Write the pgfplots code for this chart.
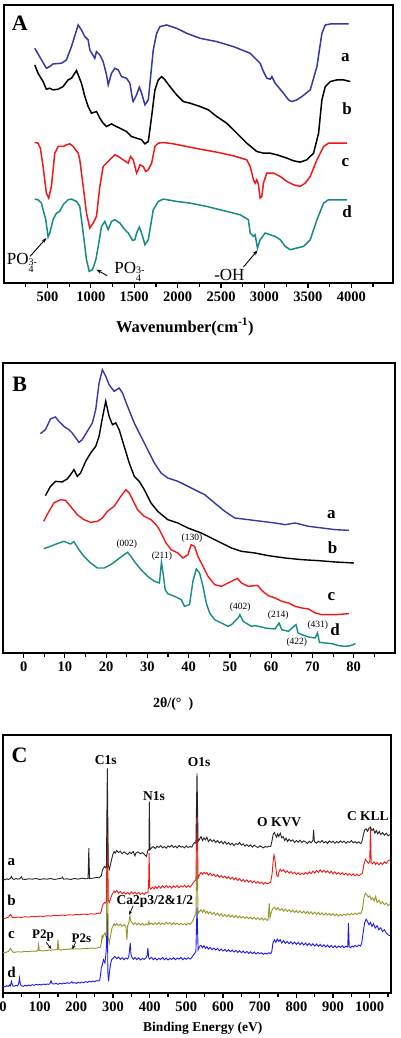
\documentclass[border=0pt]{standalone}
\usepackage{fontspec}
\setmainfont{Liberation Serif}
\usepackage{pgfplots}
\pgfplotsset{compat=1.18}
\usetikzlibrary{arrows.meta}
\definecolor{cA}{RGB}{55,55,165}
\definecolor{cR}{RGB}{240,25,25}
\definecolor{cT}{RGB}{20,140,130}
\definecolor{cO}{RGB}{150,150,40}
\definecolor{cBl}{RGB}{25,25,240}
\pgfplotsset{
  panel/.style={
    scale only axis, clip=false, anchor=south west,
    axis line style={line width=1.5pt},
    ytick=\empty, xtick pos=left, tick align=outside,
    major tick length=5pt, minor tick length=4pt,
    every tick/.style={black, line width=1.2pt},
    scaled x ticks=false,
    /pgf/number format/1000 sep={},
    /pgf/number format/assume math mode=true,
    xticklabel style={font=\fontsize{14.5}{16}\selectfont\bfseries},
  }
}
\newcommand{\po}{PO\raisebox{-4.5pt}{\fontsize{10}{10}\selectfont\begin{tabular}{@{}l@{}}3-\\[-2.5pt]4\end{tabular}}}
\begin{document}
\begin{tikzpicture}
\useasboundingbox (0,0) rectangle (400pt,1038pt);
% ================= Panel A =================
\begin{axis}[panel, at={(4pt,755pt)}, width=389pt, height=278pt,
  xmin=0, xmax=4480, ymin=0, ymax=835,
  xtick={500,1000,...,4000}, minor xtick={250,750,...,4250}]
\addplot[cA, line width=1.5pt] coordinates {
(354,705)(488,645)(527,650)(565,658)(662,660)(719,670)(777,710)(854,775)(892,760)(931,740)(969,730)(988,700)(1046,675)(1065,695)(1104,685)(1142,665)(1181,625)(1200,595)(1238,630)(1277,645)(1315,640)(1354,620)(1411,615)(1450,600)(1481,550)(1488,545)(1527,565)(1558,588)(1585,570)(1623,535)(1662,550)(1719,700)(1758,750)(1796,770)(1873,775)(1988,765)(2104,750)(2258,735)(2450,725)(2642,710)(2835,690)(2950,660)(2988,635)(3027,615)(3065,612)(3085,620)(3123,600)(3161,588)(3219,570)(3277,550)(3315,545)(3373,550)(3431,560)(3527,580)(3604,650)(3661,750)(3700,775)(3758,778)(3969,778)};
\addplot[black, line width=1.5pt] coordinates {
(354,655)(392,630)(450,605)(488,582)(527,585)(565,580)(623,582)(681,590)(738,610)(777,615)(835,638)(892,600)(931,560)(969,530)(1008,510)(1065,515)(1104,495)(1142,480)(1181,470)(1238,478)(1277,472)(1335,465)(1411,455)(1469,440)(1527,435)(1585,430)(1623,418)(1662,425)(1700,500)(1738,580)(1777,610)(1815,620)(1854,610)(1911,590)(1988,565)(2065,545)(2142,540)(2258,530)(2354,520)(2450,500)(2565,480)(2642,460)(2719,440)(2796,420)(2911,395)(2988,390)(3065,390)(3142,385)(3258,375)(3335,367)(3411,363)(3488,370)(3565,390)(3623,450)(3661,550)(3700,590)(3758,605)(3834,610)(3911,610)(3988,605)};
\addplot[cR, line width=1.5pt] coordinates {
(354,422)(392,420)(419,405)(450,350)(488,270)(515,255)(546,290)(585,390)(623,410)(681,410)(719,415)(758,418)(796,410)(854,390)(873,370)(912,290)(950,210)(988,165)(1027,180)(1065,200)(1104,290)(1142,350)(1181,360)(1238,375)(1277,385)(1315,380)(1373,370)(1431,360)(1458,380)(1488,370)(1508,350)(1527,330)(1546,340)(1565,355)(1604,350)(1631,335)(1662,340)(1700,360)(1738,410)(1777,420)(1835,422)(1950,418)(2104,410)(2258,402)(2450,393)(2642,382)(2796,370)(2835,350)(2873,310)(2892,300)(2911,310)(2931,295)(2950,255)(2969,260)(2988,300)(3027,330)(3104,330)(3181,320)(3258,305)(3335,295)(3411,290)(3469,300)(3527,320)(3604,370)(3681,410)(3738,420)(3950,420)};
\addplot[cT, line width=1.5pt] coordinates {
(354,252)(392,250)(431,240)(450,220)(481,190)(508,138)(527,150)(565,190)(604,210)(642,215)(681,235)(738,250)(777,252)(835,245)(873,230)(912,150)(950,70)(981,35)(1019,40)(1058,70)(1085,110)(1123,170)(1161,185)(1200,160)(1238,185)(1277,190)(1335,180)(1392,160)(1431,150)(1481,128)(1508,130)(1527,150)(1558,168)(1585,150)(1623,115)(1662,130)(1719,220)(1777,245)(1835,252)(1988,245)(2142,240)(2335,230)(2565,215)(2719,205)(2815,190)(2835,150)(2873,140)(2892,145)(2919,105)(2950,130)(3008,150)(3065,145)(3123,140)(3181,130)(3239,110)(3296,100)(3373,105)(3450,110)(3527,130)(3604,190)(3681,240)(3738,250)(3950,250)};
\node[font=\fontsize{22}{24}\selectfont\bfseries] at (axis cs:181,781) {A};
\node[font=\fontsize{17}{19}\selectfont\bfseries] at (axis cs:3931,678) {a};
\node[font=\fontsize{17}{19}\selectfont\bfseries] at (axis cs:3950,525) {b};
\node[font=\fontsize{17}{19}\selectfont\bfseries] at (axis cs:3931,362) {c};
\node[font=\fontsize{17}{19}\selectfont\bfseries] at (axis cs:3950,215) {d};
\node[font=\fontsize{17}{19}\selectfont, anchor=west, inner sep=0pt] at (axis cs:30,55) {\po};
\node[font=\fontsize{17}{19}\selectfont, anchor=west, inner sep=0pt] at (axis cs:1270,30) {\po};
\node[font=\fontsize{17}{19}\selectfont, inner sep=0pt] at (axis cs:2596,23) {-OH};
\draw[-{Stealth[length=5pt]}, line width=0.9pt] (axis cs:300,80) -- (axis cs:488,135);
\draw[-{Stealth[length=5pt]}, line width=0.9pt] (axis cs:1188,22) -- (axis cs:1065,40);
\draw[-{Stealth[length=5pt]}, line width=0.9pt] (axis cs:2758,48) -- (axis cs:2919,98);
\node[font=\fontsize{16.5}{18}\selectfont\bfseries] at (rel axis cs:0.465,-0.158) {Wavenumber(cm\textsuperscript{-1})};
\end{axis}
% ================= Panel B =================
\begin{axis}[panel, at={(3pt,385pt)}, width=392pt, height=290pt,
  xmin=-5, xmax=90, ymin=0, ymax=870,
  xtick={0,10,...,80}, minor xtick={5,15,...,85}]
\addplot[cA, line width=1.4pt] coordinates {
(4.06,658)(5.28,670)(6.50,702)(7.72,708)(8.53,695)(9.75,680)(10.97,670)(11.78,660)(13.4,632)(14.2,640)(15.43,665)(16.65,690)(17.47,730)(18.28,810)(19.09,850)(19.9,830)(20.71,805)(21.93,785)(23.15,795)(23.96,780)(25.18,740)(26.81,690)(28.43,650)(30.06,610)(31.68,570)(33.31,540)(34.93,525)(37.37,515)(39.81,500)(42.24,485)(43.87,475)(46.3,450)(48.74,425)(51.18,405)(54.43,400)(57.68,395)(60.93,390)(63.36,385)(65.8,390)(69.05,380)(72.3,375)(75.55,370)(78.8,368)};
\addplot[black, line width=1.4pt] coordinates {
(5.28,472)(6.5,500)(7.72,515)(9.34,513)(10.56,522)(11.37,535)(12.19,550)(13.0,530)(13.81,540)(15.03,575)(16.25,600)(17.47,620)(18.28,650)(19.09,705)(19.9,755)(20.71,710)(21.53,685)(22.34,690)(23.15,670)(24.37,620)(25.59,570)(26.81,530)(28.03,515)(29.24,490)(30.87,450)(32.49,425)(34.93,400)(37.37,390)(39.81,375)(43.05,360)(45.49,345)(47.93,330)(50.37,315)(52.8,305)(56.05,300)(59.3,292)(63.36,285)(67.42,280)(71.49,277)(75.55,273)(80.02,270)};
\addplot[cR, line width=1.4pt] coordinates {
(4.87,395)(5.69,415)(7.31,450)(8.94,460)(10.15,458)(11.37,440)(13.0,415)(14.62,400)(16.25,392)(17.87,395)(19.09,405)(20.31,425)(21.93,440)(23.56,470)(24.78,490)(25.59,480)(26.4,460)(27.62,430)(29.24,410)(30.87,400)(32.09,385)(32.9,370)(33.71,350)(34.52,330)(35.74,310)(37.37,300)(38.59,285)(39.81,295)(40.62,325)(41.43,320)(42.24,290)(43.46,260)(44.68,230)(46.3,205)(47.93,200)(49.55,210)(51.18,220)(51.8,224)(52.8,210)(54.43,200)(56.7,203)(57.68,188)(59.3,172)(60.93,165)(62.55,155)(64.18,150)(65.8,140)(67.42,135)(69.05,132)(70.67,120)(72.3,115)(75.55,115)(78.8,118)};
\addplot[cT, line width=1.4pt] coordinates {
(4.87,313)(6.5,320)(8.12,328)(9.75,335)(11.37,327)(12.19,334)(13.4,310)(14.62,290)(16.25,270)(17.87,255)(19.5,255)(21.12,265)(22.75,280)(24.37,295)(25.18,302)(26.0,290)(26.81,275)(28.43,250)(30.06,230)(31.68,215)(32.9,210)(33.4,272)(33.9,230)(34.3,190)(34.93,178)(36.56,170)(38.18,160)(38.99,140)(40.21,145)(41.02,215)(41.84,252)(42.65,240)(43.46,200)(44.27,150)(45.08,120)(46.3,100)(47.93,90)(49.55,80)(50.37,85)(51.99,105)(52.4,115)(53.21,95)(55.2,80)(56.05,82)(57.68,78)(58.5,75)(60.93,72)(61.9,90)(62.55,70)(64.18,65)(66.0,85)(66.5,60)(67.42,55)(69.05,48)(70.67,45)(71.2,60)(71.7,32)(73.11,30)(74.74,28)(76.36,22)(77.99,20)(79.2,22)(80.42,28)};
\node[font=\fontsize{22}{24}\selectfont\bfseries] at (axis cs:-0.97,805) {B};
\node[font=\fontsize{17}{19}\selectfont\bfseries] at (axis cs:74.6,415) {a};
\node[font=\fontsize{17}{19}\selectfont\bfseries] at (axis cs:74.9,315) {b};
\node[font=\fontsize{17}{19}\selectfont\bfseries] at (axis cs:74.6,170) {c};
\node[font=\fontsize{17}{19}\selectfont\bfseries] at (axis cs:75.5,70) {d};
\node[font=\fontsize{9.5}{11}\selectfont] at (axis cs:25.0,325) {(002)};
\node[font=\fontsize{9.5}{11}\selectfont] at (axis cs:33.5,290) {(211)};
\node[font=\fontsize{9.5}{11}\selectfont] at (axis cs:40.8,345) {(130)};
\node[font=\fontsize{9.5}{11}\selectfont] at (axis cs:52.5,138) {(402)};
\node[font=\fontsize{9.5}{11}\selectfont] at (axis cs:61.7,112) {(214)};
\node[font=\fontsize{9.5}{11}\selectfont] at (axis cs:66.2,33) {(422)};
\node[font=\fontsize{9.5}{11}\selectfont] at (axis cs:71.3,82) {(431)};
\node[font=\fontsize{14}{16}\selectfont\bfseries] at (rel axis cs:0.434,-0.175) {2θ/(°\ \ )};
\end{axis}
% ================= Panel C =================
\begin{axis}[panel, at={(3pt,45pt)}, width=388pt, height=258pt,
  xmin=0, xmax=1058, ymin=0, ymax=775,
  xtick={0,100,...,1000}, minor xtick={50,150,...,1050}]
\addplot[cBl, line width=0.9pt] coordinates {
(0,18)(3,20)(6,19)(10,22)(14,20)(18,24)(20,21)(23,35)(26,22)(30,20)(35,23)(40,21)(43,30)(45,45)(47,28)(50,22)(55,20)(60,23)(65,21)(70,24)(75,22)(80,25)(85,23)(90,26)(95,24)(100,26)(105,24)(110,27)(115,25)(120,27)(125,26)(128,28)(131,37)(134,28)(140,27)(145,29)(150,26)(155,29)(160,27)(165,30)(170,28)(175,31)(180,29)(185,31)(188,34)(190,30)(195,31)(200,29)(205,32)(210,30)(215,33)(220,31)(225,34)(230,32)(235,35)(240,33)(245,36)(250,34)(255,37)(260,36)(264,40)(266,55)(268,75)(271,85)(274,100)(276,95)(278,90)(280,110)(282,140)(284.5,240)(286,60)(288,35)(290,60)(293,85)(296,100)(300,104)(305,110)(310,103)(315,108)(320,101)(325,106)(330,100)(335,105)(340,102)(343,110)(345,128)(347,150)(349,115)(352,106)(356,101)(360,107)(365,100)(370,106)(375,99)(380,104)(385,101)(390,106)(393,112)(395,135)(397,108)(400,102)(405,107)(410,100)(415,105)(420,99)(425,104)(430,101)(435,107)(440,100)(445,105)(450,99)(455,104)(460,101)(465,106)(470,100)(475,105)(480,102)(485,107)(490,100)(495,105)(500,101)(505,106)(510,102)(515,107)(518,112)(522,118)(526,125)(529,260)(532,130)(536,140)(540,143)(544,136)(548,142)(552,134)(556,139)(560,132)(565,137)(570,130)(575,135)(580,129)(585,134)(590,127)(595,132)(600,126)(605,131)(610,125)(615,130)(620,124)(625,129)(630,123)(635,128)(640,122)(645,127)(650,121)(655,126)(660,120)(665,125)(670,119)(675,124)(680,118)(685,123)(690,117)(695,122)(700,118)(705,121)(710,116)(715,120)(720,117)(725,121)(730,118)(733,125)(736,150)(740,160)(744,152)(748,162)(752,155)(756,160)(760,150)(765,157)(770,149)(775,155)(780,148)(785,154)(790,147)(795,153)(800,146)(805,152)(810,145)(815,151)(820,144)(825,150)(830,143)(835,149)(840,142)(845,148)(850,141)(855,147)(860,140)(865,146)(870,139)(875,145)(880,138)(885,144)(890,137)(895,143)(900,136)(905,142)(910,136)(915,141)(920,137)(925,142)(930,136)(935,141)(940,138)(942,210)(944,140)(948,136)(952,141)(956,138)(960,143)(965,139)(970,144)(975,141)(978,150)(982,180)(986,210)(990,222)(994,215)(998,205)(1002,212)(1006,200)(1010,208)(1015,195)(1020,202)(1025,190)(1030,196)(1035,185)(1040,190)(1045,180)(1050,175)(1055,172)};
\addplot[cO, line width=0.9pt] coordinates {
(0,122)(5,121)(10,123)(15,125)(20,134)(23,130)(26,124)(30,122)(40,124)(50,123)(60,125)(70,124)(80,126)(90,125)(95,128)(97,146)(99,128)(105,127)(110,126)(115,128)(120,127)(125,129)(130,128)(135,130)(140,129)(145,130)(148,131)(150,160)(152,131)(158,129)(165,131)(170,130)(175,132)(180,131)(185,133)(188,132)(190,140)(192,132)(200,133)(210,132)(220,134)(230,133)(240,135)(250,134)(260,136)(265,137)(268,150)(270,172)(272,165)(275,175)(278,180)(280,172)(282,176)(284.5,470)(287,165)(290,150)(293,170)(297,195)(300,200)(303,208)(306,203)(310,208)(315,202)(320,207)(325,200)(330,205)(335,200)(338,160)(340,202)(343,210)(346,232)(348,218)(351,212)(355,206)(360,211)(365,205)(370,210)(375,204)(380,209)(385,203)(390,208)(395,204)(398,215)(400,206)(405,210)(410,205)(415,211)(420,206)(425,212)(430,205)(435,210)(440,206)(445,213)(450,207)(455,212)(460,205)(465,211)(470,206)(475,210)(480,204)(485,210)(490,205)(495,209)(500,204)(505,210)(510,206)(515,212)(518,218)(522,230)(526,236)(529,430)(532,238)(536,245)(540,250)(544,242)(548,250)(552,240)(556,246)(560,238)(565,244)(570,236)(575,242)(580,234)(585,240)(590,232)(595,238)(600,230)(605,236)(610,229)(615,235)(620,228)(625,234)(630,227)(635,233)(640,226)(645,231)(650,225)(655,230)(660,224)(665,229)(670,223)(675,228)(680,222)(685,227)(690,221)(695,226)(700,220)(705,225)(710,219)(715,224)(720,218)(723,222)(726,270)(728,225)(731,240)(735,252)(740,258)(745,250)(750,256)(755,248)(760,254)(765,246)(770,252)(775,245)(780,250)(785,243)(790,249)(795,242)(800,248)(805,241)(810,247)(815,240)(820,246)(825,239)(830,245)(835,238)(840,244)(845,237)(850,243)(855,236)(860,242)(865,235)(870,241)(875,234)(880,240)(885,234)(890,239)(895,233)(900,238)(905,232)(910,237)(915,231)(920,236)(925,232)(930,237)(935,233)(940,238)(945,234)(950,239)(955,235)(960,240)(965,236)(970,241)(975,238)(980,250)(984,285)(988,300)(992,295)(996,288)(1000,292)(1004,280)(1008,286)(1012,276)(1016,290)(1020,272)(1025,278)(1030,268)(1035,274)(1040,265)(1045,270)(1050,262)(1055,268)};
\addplot[cR, line width=0.9pt] coordinates {
(0,225)(5,224)(10,226)(15,228)(20,236)(23,232)(26,227)(30,226)(40,228)(50,227)(60,229)(70,228)(80,230)(90,229)(100,231)(110,230)(120,232)(130,231)(140,233)(150,232)(160,234)(170,233)(180,235)(190,234)(200,236)(210,235)(220,237)(230,236)(240,238)(250,237)(260,240)(265,239)(268,245)(271,262)(274,268)(277,272)(280,270)(282,275)(284.5,565)(287,280)(290,272)(293,282)(297,295)(300,300)(303,306)(306,302)(310,308)(315,300)(320,305)(325,298)(330,303)(335,297)(340,302)(345,296)(350,304)(355,298)(360,303)(365,297)(370,302)(375,296)(380,300)(385,296)(390,302)(395,300)(397,320)(398.5,420)(400,318)(403,312)(408,318)(412,313)(416,320)(420,314)(425,321)(430,315)(435,322)(440,316)(445,323)(450,317)(455,321)(460,315)(465,322)(470,317)(475,323)(480,316)(485,322)(490,318)(495,324)(500,317)(505,323)(510,318)(515,325)(518,330)(522,336)(526,340)(529,570)(532,345)(536,355)(540,362)(544,356)(548,363)(552,358)(556,362)(560,354)(565,360)(570,352)(575,357)(580,350)(585,355)(590,347)(595,353)(600,346)(605,351)(610,344)(615,349)(620,342)(625,348)(630,340)(635,346)(640,338)(645,344)(650,336)(655,341)(660,334)(665,340)(670,333)(675,338)(680,331)(685,336)(690,330)(695,335)(700,329)(705,333)(710,327)(715,332)(720,328)(725,330)(730,333)(734,360)(737,400)(739,415)(741,405)(744,375)(747,352)(750,350)(753,365)(756,372)(760,366)(765,370)(770,362)(775,367)(780,360)(785,365)(790,358)(795,363)(800,356)(805,361)(810,355)(815,360)(820,356)(825,362)(830,357)(835,364)(840,358)(845,366)(850,360)(855,368)(860,362)(865,370)(870,363)(875,369)(880,362)(885,367)(890,360)(895,366)(900,358)(905,364)(910,357)(915,362)(920,356)(925,361)(930,355)(935,360)(940,354)(945,359)(950,353)(955,358)(960,352)(965,357)(970,352)(975,356)(980,360)(984,385)(988,402)(992,396)(996,390)(1000,395)(1002,500)(1004,392)(1008,388)(1012,394)(1016,386)(1020,392)(1025,385)(1030,391)(1035,386)(1040,394)(1045,389)(1050,397)(1055,400)};
\addplot[black!85, line width=0.9pt] coordinates {
(0,342)(5,340)(10,343)(15,341)(20,344)(23,350)(26,343)(30,341)(35,344)(40,342)(45,343)(50,349)(53,342)(60,341)(70,343)(80,342)(90,344)(100,341)(110,343)(120,342)(130,344)(140,341)(150,343)(160,345)(162,348)(165,342)(175,343)(185,341)(195,344)(205,342)(215,345)(225,343)(232,344)(234,435)(236,344)(245,345)(255,347)(262,346)(268,352)(271,368)(274,375)(277,380)(280,376)(282,378)(284.5,675)(287,385)(290,372)(293,385)(297,405)(300,418)(303,425)(306,420)(310,428)(315,422)(320,426)(325,418)(330,424)(335,420)(340,416)(345,423)(350,419)(355,425)(360,412)(362,420)(368,424)(375,418)(380,422)(386,416)(391,410)(395,428)(398,432)(399,575)(400.5,430)(405,436)(410,440)(415,434)(420,441)(425,437)(430,443)(435,436)(440,440)(445,435)(450,442)(455,438)(460,444)(465,437)(470,441)(475,436)(480,443)(485,438)(490,440)(495,436)(500,442)(505,437)(510,440)(515,438)(518,446)(522,452)(526,450)(529,660)(532,455)(536,462)(540,470)(544,458)(548,466)(552,460)(556,468)(560,455)(565,462)(570,455)(575,460)(580,452)(585,458)(590,450)(595,456)(600,448)(605,455)(610,447)(615,452)(620,445)(625,450)(630,443)(635,449)(640,446)(645,452)(650,444)(655,448)(660,441)(665,446)(670,440)(675,445)(680,438)(685,444)(690,440)(695,437)(700,442)(705,439)(710,436)(715,440)(720,438)(725,441)(730,440)(734,460)(737,478)(740,482)(743,474)(746,468)(749,478)(752,470)(756,480)(760,466)(764,470)(768,458)(772,465)(776,455)(780,462)(785,456)(790,460)(795,452)(800,458)(805,453)(810,459)(815,452)(820,457)(825,454)(830,449)(835,456)(840,451)(845,458)(847,490)(849,455)(855,450)(860,456)(865,452)(870,458)(875,451)(880,455)(885,449)(890,457)(895,452)(900,456)(905,450)(910,455)(915,451)(920,457)(925,452)(930,456)(935,450)(940,455)(945,452)(950,458)(955,451)(960,455)(965,450)(970,454)(975,449)(978,452)(982,472)(986,490)(990,493)(994,486)(998,495)(1002,498)(1006,488)(1010,493)(1014,480)(1018,488)(1022,478)(1026,485)(1030,476)(1035,482)(1040,474)(1045,480)(1050,472)(1055,476)};
\node[font=\fontsize{22}{24}\selectfont\bfseries] at (axis cs:45,715) {C};
\node[font=\fontsize{13.5}{15}\selectfont\bfseries] at (axis cs:280,700) {C1s};
\node[font=\fontsize{13.5}{15}\selectfont\bfseries] at (axis cs:412,590) {N1s};
\node[font=\fontsize{13.5}{15}\selectfont\bfseries] at (axis cs:535,693) {O1s};
\node[font=\fontsize{13.5}{15}\selectfont\bfseries] at (axis cs:753,512) {O KVV};
\node[font=\fontsize{13.5}{15}\selectfont\bfseries] at (axis cs:995,532) {C KLL};
\node[font=\fontsize{13.5}{15}\selectfont\bfseries] at (axis cs:414,275) {Ca2p3/2\&1/2};
\node[font=\fontsize{13}{15}\selectfont\bfseries] at (axis cs:109,172) {P2p};
\node[font=\fontsize{13}{15}\selectfont\bfseries] at (axis cs:214,165) {P2s};
\draw[-{Stealth[length=4pt]}, line width=0.7pt] (axis cs:118,152) -- (axis cs:132,132);
\draw[-{Stealth[length=4pt]}, line width=0.7pt] (axis cs:198,152) -- (axis cs:189,132);
\draw[-{Stealth[length=4pt]}, line width=0.7pt] (axis cs:355,262) -- (axis cs:344,235);
\node[font=\fontsize{15}{17}\selectfont\bfseries] at (axis cs:23,392) {a};
\node[font=\fontsize{15}{17}\selectfont\bfseries] at (axis cs:23,278) {b};
\node[font=\fontsize{15}{17}\selectfont\bfseries] at (axis cs:23,175) {c};
\node[font=\fontsize{15}{17}\selectfont\bfseries] at (axis cs:23,63) {d};
\node[font=\fontsize{13.5}{15}\selectfont\bfseries] at (rel axis cs:0.515,-0.136) {Binding Energy (eV)};
\end{axis}
\end{tikzpicture}
\end{document}
